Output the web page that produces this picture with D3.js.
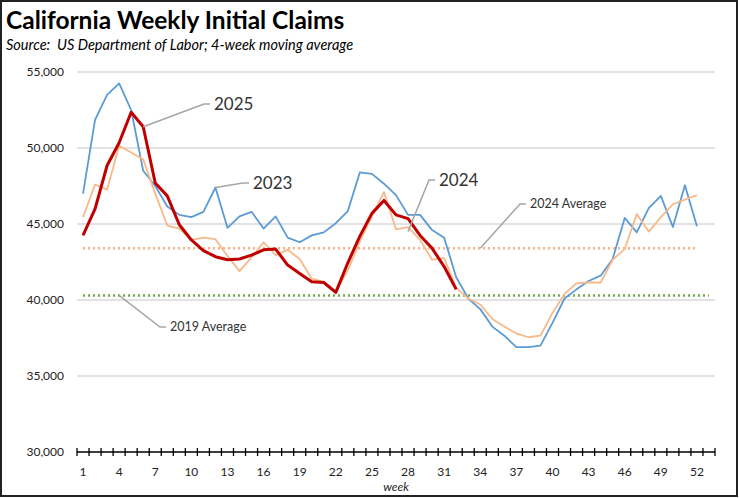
<!DOCTYPE html>
<html>
<head>
<meta charset="utf-8">
<script src="https://cdn.jsdelivr.net/npm/d3@7.9.0/dist/d3.min.js"></script>
<style>
  html, body { margin: 0; padding: 0; background: #fff; }
  svg { display: block; font-family: Lato, "Open Sans", sans-serif; }
</style>
</head>
<body>
<svg id="chart" width="739" height="499"></svg>
<script>
const weeks = d3.range(1, 54);
const tickWeeks = d3.range(1, 53, 3);

const claims2023 = [47000, 51850, 53500, 54250, 52500, 48500, 47500, 46150, 45600, 45450,
  45800, 47400, 44750, 45500, 45800, 44700, 45500, 44100, 43800, 44250,
  44450, 45050, 45850, 48400, 48300, 47650, 46900, 45600, 45600, 44600,
  44100, 41500, 40100, 39400, 38250, 37650, 36900, 36900, 37000, 38500,
  40100, 40700, 41250, 41600, 42700, 45400, 44450, 46050, 46850, 44800,
  47550, 44850];

const claims2024 = [45450, 47600, 47250, 50150, 49700, 49250, 47000, 44900, 44700, 43950,
  44100, 44000, 42900, 41900, 42800, 43800, 42950, 43300, 42700, 41400,
  41200, 40550, 41950, 43850, 45500, 47100, 44650, 44800, 43950, 42650,
  42750, 40800, 40100, 39700, 38750, 38250, 37800, 37550, 37650, 39150,
  40400, 41100, 41150, 41150, 42650, 43350, 45650, 44500, 45450, 46300,
  46600, 46900];

const claims2025 = [44250, 46000, 48850, 50350, 52350, 51400, 47700, 46850, 44950, 43950,
  43250, 42850, 42650, 42700, 42950, 43300, 43350, 42300, 41750, 41200,
  41150, 40500, 42450, 44200, 45700, 46550, 45600, 45350, 44250, 43400,
  42200, 40700];

const avg2024 = 43400;
const avg2019 = 40300;
const yTicks = [30000, 35000, 40000, 45000, 50000, 55000];

const svg = d3.select('#chart');

// outer frame
svg.append('rect')
  .attr('x', 1).attr('y', 1).attr('width', 736).attr('height', 495)
  .attr('fill', 'none').attr('stroke', '#222').attr('stroke-width', 2);

svg.append('text')
  .attr('x', 6).attr('y', 29)
  .attr('font-size', 24.5).attr('font-weight', 'bold').attr('fill', '#000')
  .text('California Weekly Initial Claims');

svg.append('text')
  .attr('x', 6).attr('y', 50)
  .attr('font-size', 14.5).attr('font-style', 'italic').attr('fill', '#000')
  .style('white-space', 'pre')
  .text('Source:  US Department of Labor; 4-week moving average');

const x = d3.scaleBand().domain(weeks).range([77, 715]);
const cx = w => x(w) + x.bandwidth() / 2;
const y = d3.scaleLinear().domain([30000, 55000]).range([452, 72]);

// gridlines
svg.append('g')
  .selectAll('line')
  .data(yTicks.slice(1))
  .join('line')
  .attr('x1', 77).attr('x2', 715)
  .attr('y1', d => y(d)).attr('y2', d => y(d))
  .attr('stroke', '#d9d9d9').attr('stroke-width', 1.5);

// y labels
svg.append('g')
  .selectAll('text')
  .data(yTicks)
  .join('text')
  .attr('x', 64).attr('y', d => y(d) + 4)
  .attr('text-anchor', 'end')
  .attr('font-size', 12).attr('fill', '#222')
  .text(d => d3.format(',')(d));

// x axis
const xAxis = svg.append('g');
xAxis.append('line')
  .attr('x1', 77).attr('x2', 715)
  .attr('y1', y(30000)).attr('y2', y(30000))
  .attr('stroke', '#000').attr('stroke-width', 1.5);
xAxis.selectAll('line.tick')
  .data(weeks.concat([54]))
  .join('line')
  .attr('class', 'tick')
  .attr('x1', d => d === 54 ? 715 : x(d)).attr('x2', d => d === 54 ? 715 : x(d))
  .attr('y1', y(30000) - 4).attr('y2', y(30000) + 4)
  .attr('stroke', '#000').attr('stroke-width', 1.3);
xAxis.selectAll('text')
  .data(tickWeeks)
  .join('text')
  .attr('x', d => cx(d)).attr('y', 476)
  .attr('text-anchor', 'middle')
  .attr('font-size', 12).attr('fill', '#222')
  .text(d => d);
svg.append('text')
  .attr('x', cx(27)).attr('y', 491)
  .attr('text-anchor', 'middle')
  .attr('font-size', 12).attr('font-style', 'italic').attr('fill', '#222')
  .text('week');

// average lines
svg.append('line')
  .attr('x1', cx(1)).attr('x2', cx(52))
  .attr('y1', y(avg2024)).attr('y2', y(avg2024))
  .attr('stroke', '#F4B183').attr('stroke-width', 2.5)
  .attr('stroke-dasharray', '2,3');
svg.append('line')
  .attr('x1', cx(1)).attr('x2', cx(53))
  .attr('y1', y(avg2019)).attr('y2', y(avg2019))
  .attr('stroke', '#70AD47').attr('stroke-width', 2.5)
  .attr('stroke-dasharray', '2,3');

const line = d3.line()
  .x((d, i) => cx(weeks[i]))
  .y(d => y(d));

svg.append('path')
  .attr('d', line(claims2023))
  .attr('fill', 'none').attr('stroke', '#5B9BD5').attr('stroke-width', 1.8)
  .attr('stroke-linejoin', 'round');
svg.append('path')
  .attr('d', line(claims2024))
  .attr('fill', 'none').attr('stroke', '#F8B98A').attr('stroke-width', 1.8)
  .attr('stroke-linejoin', 'round');
svg.append('path')
  .attr('d', line(claims2025))
  .attr('fill', 'none').attr('stroke', '#C00000').attr('stroke-width', 3)
  .attr('stroke-linejoin', 'round');

// callouts: anchor week, value, elbow point, label
const callouts = [
  { week: 6, value: claims2025[5], ex: 204, ey: 104, label: '2025', size: 17 },
  { week: 12, value: claims2023[11], ex: 243, ey: 183, label: '2023', size: 17 },
  { week: 28, value: 44500, ex: 429, ey: 180, label: '2024', size: 17 },
  { week: 34, value: avg2024, ex: 520, ey: 204, label: '2024 Average', size: 12.5 },
  { week: 4, value: avg2019, ex: 160, ey: 327, label: '2019 Average', size: 12.5 }
];

callouts.forEach(c => {
  const g = svg.append('g');
  g.append('polyline')
    .attr('points', `${cx(c.week)},${y(c.value)} ${c.ex},${c.ey} ${c.ex + 6},${c.ey}`)
    .attr('fill', 'none').attr('stroke', '#a6a6a6').attr('stroke-width', 1.5);
  g.append('text')
    .attr('x', c.ex + 10).attr('y', c.ey + c.size * 0.35)
    .attr('font-size', c.size).attr('fill', '#333')
    .text(c.label);
});
</script>
</body>
</html>
